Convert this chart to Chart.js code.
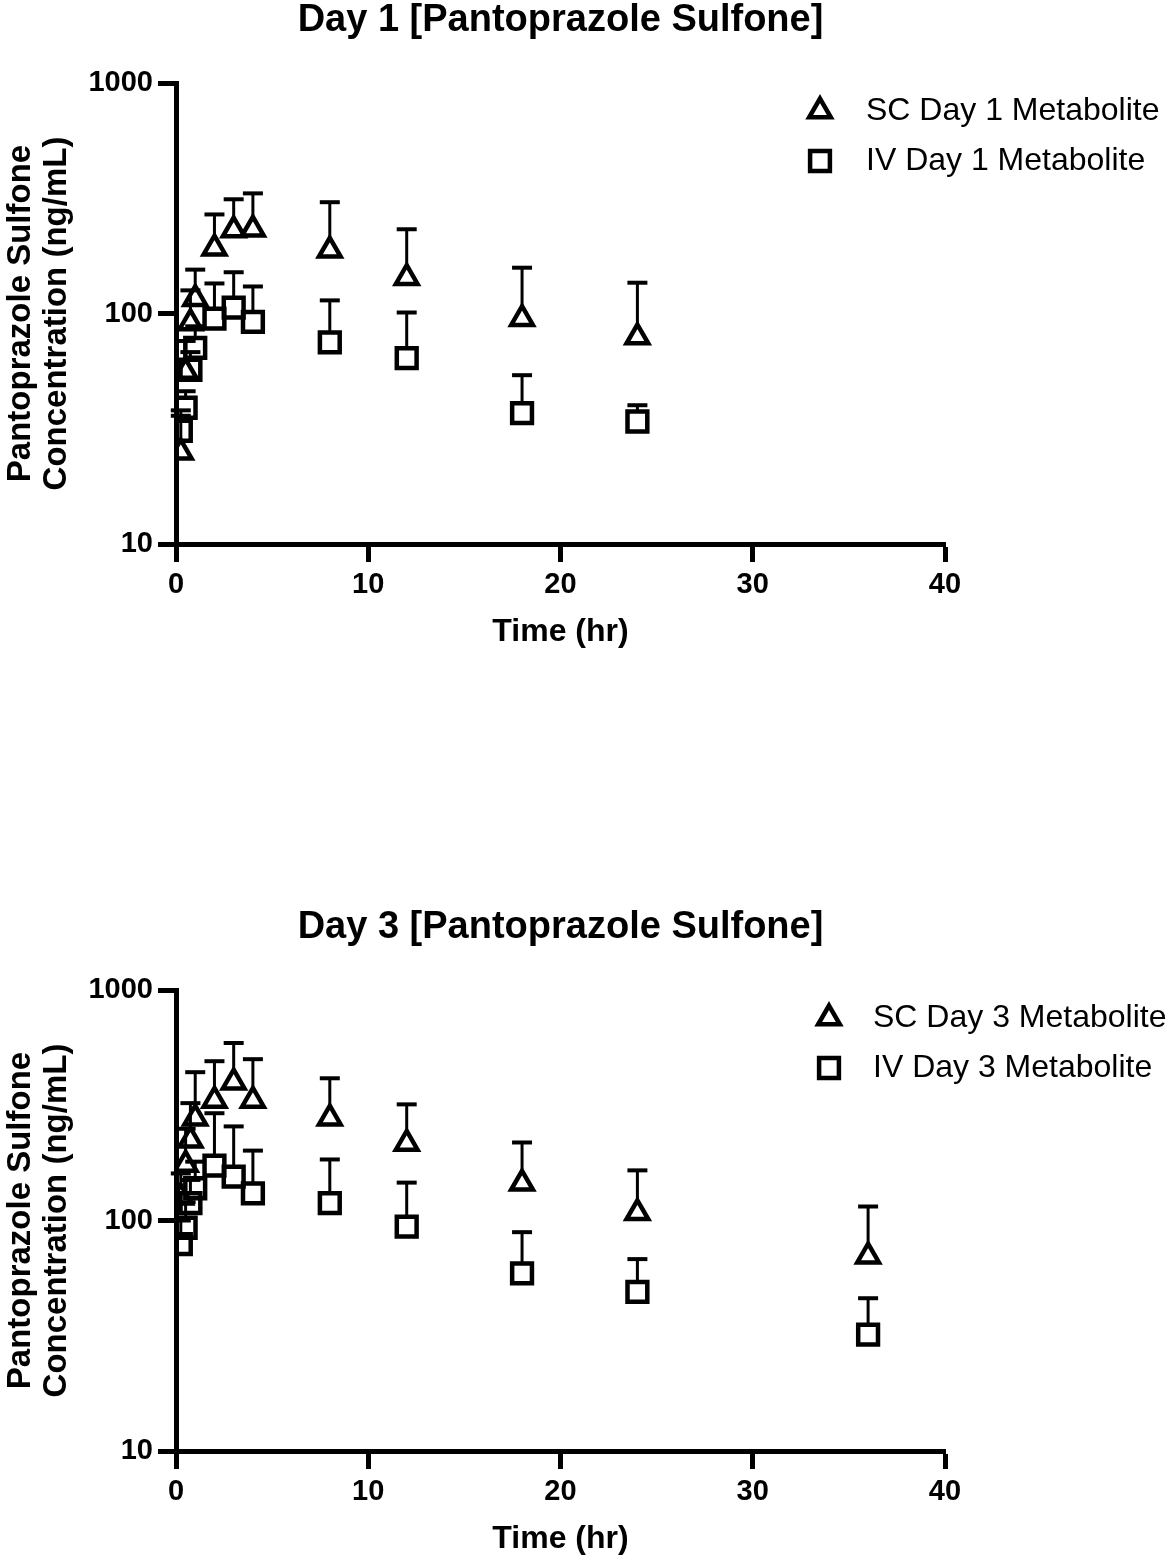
<!DOCTYPE html>
<html>
<head>
<meta charset="utf-8">
<script src="https://cdn.jsdelivr.net/npm/chart.js@4.4.1/dist/chart.umd.min.js"></script>
<style>
  html, body { margin: 0; padding: 0; background: #fff; }
  .panel { position: absolute; left: 0; width: 1170px; height: 655px; }
  #p1 { top: 0; }
  #p3 { top: 907px; }
</style>
</head>
<body>
<div class="panel" id="p1"><canvas id="day1" width="1170" height="655"></canvas></div>
<div class="panel" id="p3"><canvas id="day3" width="1170" height="655"></canvas></div>
<script>
// sampling times (hr)
var timesDay1 = [0.25, 0.5, 0.75, 1, 2, 3, 4, 8, 12, 18, 24];
var timesDay3 = [0.25, 0.5, 0.75, 1, 2, 3, 4, 8, 12, 18, 24, 36];

// Day 1 mean and mean+SD (ng/mL)
var scDay1Mean  = [25, 56, 91, 116, 192, 230, 232, 188, 143, 95, 79];
var scDay1Upper = [36, 76, 126, 155, 269, 313, 332, 304, 232, 158, 136];
var ivDay1Mean  = [31, 39, 57, 71, 95, 106, 92, 75, 64, 37, 34];
var ivDay1Upper = [38, 46, 68, 88, 135, 151, 131, 114, 101, 54, 40];

// Day 3 mean and mean+SD (ng/mL)
var scDay3Mean  = [126, 175, 223, 278, 332, 398, 332, 278, 216, 145, 108, 70];
var scDay3Upper = [160, 250, 323, 440, 491, 589, 501, 414, 319, 218, 165, 115];
var ivDay3Mean  = [79, 93, 119, 138, 173, 155, 131, 119, 94, 59, 49, 32];
var ivDay3Upper = [100, 120, 150, 180, 292, 256, 201, 184, 146, 89, 68, 46];

var xTicks = [0, 10, 20, 30, 40];
var yTicks = [10, 100, 1000];

var FONT = '"Liberation Sans", Arial, Helvetica, sans-serif';
Chart.defaults.font.family = FONT;
Chart.defaults.color = '#000';

function toPoints(xs, ys) {
  return xs.map(function(x, i) { return { x: x, y: ys[i] }; });
}

// upper SD bars, drawn from the top edge of each symbol
var errorBars = {
  id: 'errorBars',
  afterDatasetsDraw: function(chart) {
    var ctx = chart.ctx, y = chart.scales.y;
    ctx.save();
    ctx.strokeStyle = '#000';
    chart.data.datasets.forEach(function(ds, i) {
      var meta = chart.getDatasetMeta(i);
      meta.data.forEach(function(pt, j) {
        var yTop = y.getPixelForValue(ds.errUpper[j]);
        var yStart = pt.y - ds.errOffset;
        if (yTop >= yStart) return;
        ctx.lineWidth = 3;
        ctx.beginPath();
        ctx.moveTo(pt.x, yStart);
        ctx.lineTo(pt.x, yTop);
        ctx.stroke();
        ctx.lineWidth = 4;
        ctx.beginPath();
        ctx.moveTo(pt.x - 10, yTop);
        ctx.lineTo(pt.x + 10, yTop);
        ctx.stroke();
      });
    });
    ctx.restore();
  }
};

// title over the plot area and the legend to the right
var titleLegend = {
  id: 'titleLegend',
  afterDraw: function(chart, args, opts) {
    var ctx = chart.ctx, area = chart.chartArea;
    ctx.save();
    ctx.fillStyle = '#000';
    ctx.font = 'bold 38px ' + FONT;
    ctx.textAlign = 'center';
    ctx.textBaseline = 'middle';
    ctx.fillText(opts.title, (area.left + area.right) / 2, 21);

    ctx.font = '32px ' + FONT;
    ctx.textAlign = 'left';
    chart.data.datasets.forEach(function(ds, i) {
      var ly = opts.rowY[i];
      ctx.strokeStyle = '#000';
      ctx.fillStyle = 'rgba(0,0,0,0)';
      ctx.lineWidth = 4.5;
      Chart.helpers.drawPoint(ctx, {
        pointStyle: ds.pointStyle, radius: ds.pointRadius, borderWidth: 4.5, rotation: 0
      }, opts.markerX, ly);
      ctx.fillStyle = '#000';
      ctx.fillText(ds.label, opts.textX, ly);
    });
    ctx.restore();
  }
};

function makeChart(id, title, times, scMean, scUpper, ivMean, ivUpper, legendCfg) {
  return new Chart(document.getElementById(id), {
    type: 'scatter',
    data: {
      datasets: [
        {
          label: legendCfg.labels[0],
          data: toPoints(times, scMean),
          errUpper: scUpper,
          errOffset: 12,
          pointStyle: 'triangle',
          pointRadius: 12.5,
          pointBorderWidth: 4.5,
          pointBorderColor: '#000',
          pointBackgroundColor: 'rgba(0,0,0,0)'
        },
        {
          label: legendCfg.labels[1],
          data: toPoints(times, ivMean),
          errUpper: ivUpper,
          errOffset: 10,
          pointStyle: 'rect',
          pointRadius: 14,
          pointBorderWidth: 4.5,
          pointBorderColor: '#000',
          pointBackgroundColor: 'rgba(0,0,0,0)'
        }
      ]
    },
    options: {
      responsive: false,
      animation: false,
      devicePixelRatio: 1,
      layout: { padding: { top: 83, right: 225, left: 0, bottom: 0 } },
      plugins: {
        legend: { display: false },
        title: { display: false },
        tooltip: { enabled: false },
        titleLegend: { title: title, markerX: legendCfg.markerX, textX: legendCfg.textX, rowY: [111, 161] }
      },
      scales: {
        x: {
          type: 'linear',
          min: 0,
          max: 40,
          afterBuildTicks: function(scale) {
            scale.ticks = xTicks.map(function(v) { return { value: v }; });
          },
          afterFit: function(scale) { scale.height = 111; },
          ticks: {
            color: '#000',
            font: { size: 29, weight: 'bold' },
            padding: 6,
            maxRotation: 0
          },
          grid: {
            display: true,
            drawOnChartArea: false,
            drawTicks: true,
            tickLength: 18,
            tickWidth: 5,
            tickColor: '#000'
          },
          border: { display: true, color: '#000', width: 5 },
          title: {
            display: true,
            text: 'Time (hr)',
            color: '#000',
            font: { size: 32, weight: 'bold' },
            padding: { top: 0, bottom: 4 }
          }
        },
        y: {
          type: 'logarithmic',
          min: 10,
          max: 1000,
          afterBuildTicks: function(scale) {
            scale.ticks = yTicks.map(function(v) { return { value: v }; });
          },
          afterFit: function(scale) { scale.width = 176; },
          ticks: {
            color: '#000',
            font: { size: 29, weight: 'bold' },
            padding: 5,
            callback: function(v) { return String(v); }
          },
          grid: {
            display: true,
            drawOnChartArea: false,
            drawTicks: true,
            tickLength: 18,
            tickWidth: 5,
            tickColor: '#000'
          },
          border: { display: true, color: '#000', width: 5 },
          title: {
            display: true,
            text: ['Pantoprazole Sulfone', 'Concentration (ng/mL)'],
            color: '#000',
            font: { size: 33, weight: 'bold', lineHeight: '36px' },
            padding: { top: 3, bottom: 0 }
          }
        }
      }
    },
    plugins: [errorBars, titleLegend]
  });
}

makeChart('day1', 'Day 1 [Pantoprazole Sulfone]', timesDay1,
  scDay1Mean, scDay1Upper, ivDay1Mean, ivDay1Upper,
  { labels: ['SC Day 1 Metabolite', 'IV Day 1 Metabolite'], markerX: 820, textX: 866 });

makeChart('day3', 'Day 3 [Pantoprazole Sulfone]', timesDay3,
  scDay3Mean, scDay3Upper, ivDay3Mean, ivDay3Upper,
  { labels: ['SC Day 3 Metabolite', 'IV Day 3 Metabolite'], markerX: 829, textX: 873 });
</script>
</body>
</html>
